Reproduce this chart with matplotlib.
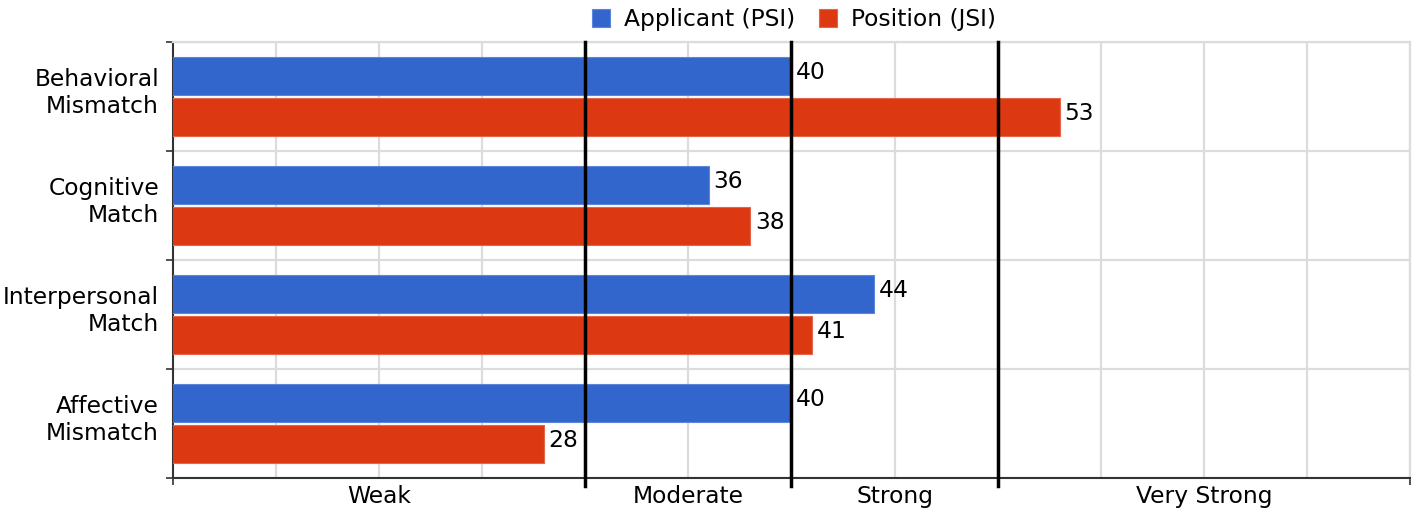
import matplotlib.pyplot as plt
from matplotlib.transforms import ScaledTranslation
import numpy as np

categories = ["Behavioral\nMismatch", "Cognitive\nMatch", "Interpersonal\nMatch", "Affective\nMismatch"]
applicant = [40, 36, 44, 40]
position = [53, 38, 41, 28]
series_names = ["Applicant (PSI)", "Position (JSI)"]
band_edges = [10, 30, 40, 50, 70]
band_labels = ["Weak", "Moderate", "Strong", "Very Strong"]

BLUE = "#3366cc"
RED = "#dc3912"
FS = 16.8

fig = plt.figure(figsize=(14.13, 5.11), dpi=100)
ax = fig.add_axes([0.1224, 0.0646, 0.8755, 0.8532])

y = np.arange(len(categories))
h = 0.35
off = 0.19
b1 = ax.barh(y - off, applicant, height=h, left=0, color=BLUE, edgecolor="#5c86d9", lw=0.8, zorder=3, label=series_names[0])
b2 = ax.barh(y + off, position, height=h, left=0, color=RED, edgecolor="#e5644a", lw=0.8, zorder=3, label=series_names[1])

for bars, vals in ((b1, applicant), (b2, position)):
    for r, v in zip(bars, vals):
        ax.text(v + 0.22, r.get_y() + r.get_height() / 2 - 0.03, str(v), va="center", ha="left",
                fontsize=FS, color="black", zorder=5)

ax.set_xlim(band_edges[0], band_edges[-1])
ax.set_ylim(len(categories) - 0.5, -0.5)

# light grid
for gx in np.arange(band_edges[0] + 5, band_edges[-1] + 1, 5):
    ax.axvline(gx, color="#dcdcdc", lw=1.6, zorder=1)
for gy in np.arange(-0.5, len(categories), 1.0):
    ax.axhline(gy, color="#dcdcdc", lw=1.6, zorder=1)

# thick band dividers
for bx in band_edges[1:-1]:
    ax.axvline(bx, ymin=-0.018, ymax=1.0, color="black", lw=2.5, zorder=4, clip_on=False)

ax.set_yticks(y)
ax.set_yticklabels(categories, fontsize=FS, ha="right")
ax.tick_params(axis="y", length=0, pad=10)
shift = ScaledTranslation(0, 8 / 100, fig.dpi_scale_trans)
for lbl in ax.get_yticklabels():
    lbl.set_transform(lbl.get_transform() + shift)
ax.set_yticks(np.arange(-0.5, len(categories), 1.0), minor=True)
ax.tick_params(axis="y", which="minor", length=5, width=1.2, color="#333333")

mids = [(a + b) / 2 for a, b in zip(band_edges[:-1], band_edges[1:])]
ax.set_xticks([band_edges[0], band_edges[-1]])
ax.set_xticklabels(["", ""])
ax.tick_params(axis="x", length=5, width=1.2, color="#333333")
ax.set_xticks(mids, minor=True)
ax.set_xticklabels(band_labels, minor=True, fontsize=FS)
ax.tick_params(axis="x", which="minor", length=0, pad=5)

ax.spines["left"].set_color("#333333")
ax.spines["left"].set_linewidth(1.5)
ax.spines["bottom"].set_color("#333333")
ax.spines["bottom"].set_linewidth(1.5)
ax.spines["top"].set_color("#dcdcdc")
ax.spines["right"].set_color("#dcdcdc")
ax.spines["top"].set_linewidth(1.6)
ax.spines["right"].set_linewidth(1.6)

ax.legend(loc="lower center", bbox_to_anchor=(0.502, 1.025), ncol=2, frameon=False, fontsize=FS,
          handlelength=0.8, handleheight=0.8, handletextpad=0.6, columnspacing=1.0, borderaxespad=0.0,
          borderpad=0.0)

fig.savefig("out.png", dpi=100)
